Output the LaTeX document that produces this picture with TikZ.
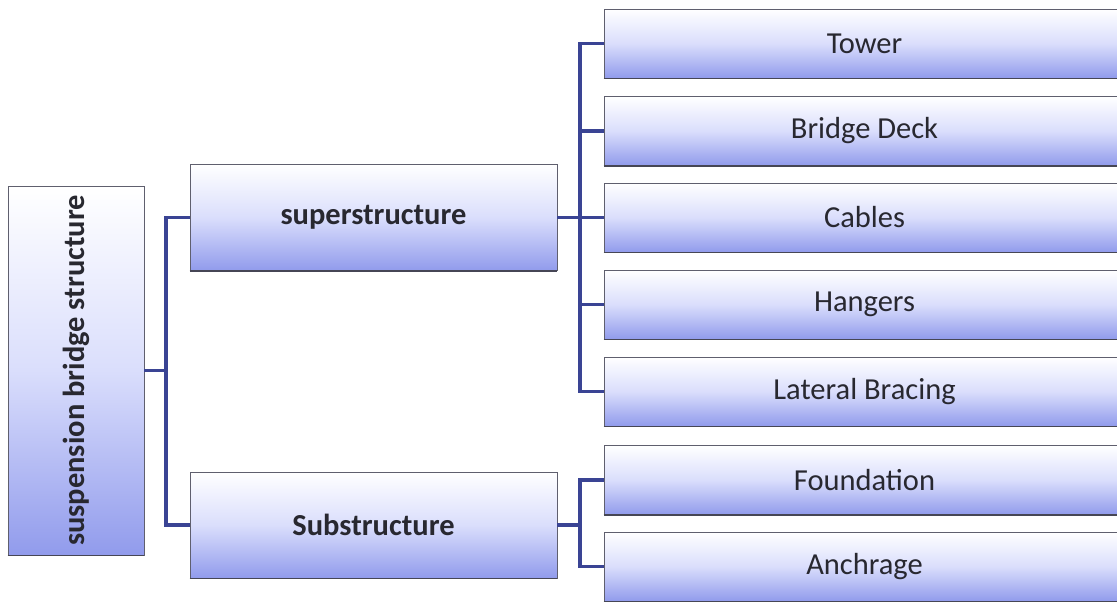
\documentclass[tikz,border=0pt]{standalone}
\usepackage{fontspec}
\setmainfont{Carlito}
\begin{document}
\begin{tikzpicture}[x=1pt,y=-1pt,
  box/.style={rectangle, draw={rgb,255:red,95;green,95;blue,110}, line width=0.7pt,
    top color=white, bottom color={rgb,255:red,145;green,155;blue,236},
    middle color={rgb,255:red,218;green,222;blue,252},
    inner sep=0pt, text={rgb,255:red,40;green,40;blue,48}, font=\fontsize{30.5}{34}\selectfont},
  bbox/.style={box, font=\bfseries\fontsize{30.5}{34}\selectfont},
  conn/.style={draw={rgb,255:red,58;green,68;blue,148}, line width=3.6pt, line join=miter, line cap=butt},
  shadowline/.style={draw={rgb,255:red,70;green,70;blue,85}, line width=1.6pt}]
\useasboundingbox (0,0) rectangle (1117,603);
\fill[white] (0,0) rectangle (1117,603);
\begin{scope}
\clip (0,0) rectangle (1117,603);
% root
\node[box, minimum width=136pt, minimum height=369pt] (root) at (76,370.5) {};
\node[rotate=90, text={rgb,255:red,40;green,40;blue,48}, font=\bfseries\fontsize{30.5}{34}\selectfont] (roottxt) at (root.center) {suspension bridge structure};
% level 2
\node[bbox, minimum width=367pt, minimum height=106pt] (sup) at (373.5,217.5) {superstructure};
\node[bbox, minimum width=367pt, minimum height=106pt] (sub) at (373.5,525) {Substructure};
% level 3
\node[box, minimum width=521pt, minimum height=69pt] (tower) at (864.5,43.5) {Tower};
\node[box, minimum width=521pt, minimum height=69pt] (deck) at (864.5,131) {Bridge Deck};
\node[box, minimum width=521pt, minimum height=69pt] (cables) at (864.5,217.5) {Cables};
\node[box, minimum width=521pt, minimum height=69pt] (hangers) at (864.5,304.5) {Hangers};
\node[box, minimum width=521pt, minimum height=69pt] (lateral) at (864.5,391.5) {Lateral Bracing};
\node[box, minimum width=521pt, minimum height=69pt] (found) at (864.5,480) {Foundation};
\node[box, minimum width=521pt, minimum height=69pt] (anch) at (864.5,566.5) {Anchrage};
% bottom shadow lines
\foreach \n in {root,sup,sub,tower,deck,cables,hangers,lateral,found,anch}
  \draw[shadowline] (\n.south west) -- (\n.south east);
% connectors
\coordinate (j1) at (166,0);
\draw[conn] (root.east) -- (root.east -| j1);
\draw[conn] (sup.west) -| (j1 |- root.east) |- (sub.west);
\coordinate (j2) at (580,0);
\draw[conn] (sup.east) -- (sup.east -| j2);
\draw[conn] (tower.west) -| (j2 |- sup.east) |- (lateral.west);
\foreach \n in {deck,cables,hangers}
  \draw[conn] (\n.west) -- (\n.west -| j2);
\draw[conn] (sub.east) -- (sub.east -| j2);
\draw[conn] (found.west) -| (j2 |- sub.east) |- (anch.west);
\end{scope}
\end{tikzpicture}
\end{document}
